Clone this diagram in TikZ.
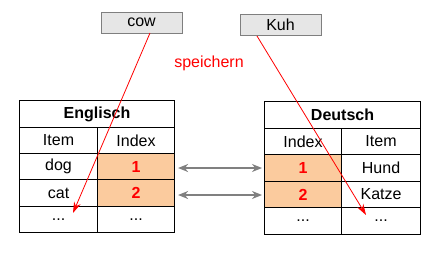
\documentclass[tikz,border=0pt]{standalone}
\usepackage{fontspec}
\setmainfont{Liberation Sans}
\usetikzlibrary{arrows.meta,calc}
\definecolor{cellorange}{HTML}{FBCB9E}
\definecolor{boxgray}{HTML}{E6E6E6}
\definecolor{edgegray}{HTML}{7F7F7F}
\definecolor{arrgray}{HTML}{808080}
\begin{document}
\begin{tikzpicture}[x=1pt,y=-1pt,
  every node/.style={font=\fontsize{16}{19}\selectfont, inner sep=0pt},
  cell/.style={draw=black, line width=1.1pt, minimum width=#1, anchor=north west},
  hl/.style={fill=cellorange},
  num/.style={text=red, font=\fontsize{16}{19}\selectfont\bfseries},
  hdr/.style={font=\fontsize{16}{19}\selectfont\bfseries},
  wordbox/.style={draw=edgegray, fill=boxgray, line width=0.8pt, minimum width=81pt, minimum height=21pt},
  redarrow/.style={draw=red, line width=0.8pt, -{Stealth[length=11pt,width=7pt]}},
  grayarrow/.style={draw=arrgray, line width=1.8pt, {Stealth[length=10pt,width=8pt]}-{Stealth[length=10pt,width=8pt]}, shorten <=3pt, shorten >=2pt}
]
\useasboundingbox (0,0) rectangle (439,252);

% Left table (Englisch)
\node[cell=155pt, minimum height=27pt, hdr] (eH) at (19,100) {Englisch};
\node[cell=78pt, minimum height=26pt] (eC1) at (19,127) {Item};
\node[cell=77pt, minimum height=26pt] (eC2) at (97,127) {Index};
\node[cell=78pt, minimum height=26pt] (eA1) at (19,153) {dog};
\node[cell=77pt, minimum height=26pt, hl, num] (eI1) at (97,153) {1};
\node[cell=78pt, minimum height=27pt] (eA2) at (19,179) {cat};
\node[cell=77pt, minimum height=27pt, hl, num] (eI2) at (97,179) {2};
\node[cell=78pt, minimum height=26pt] (eA3) at (19,206) {...};
\node[cell=77pt, minimum height=26pt] (eI3) at (97,206) {...};

% Right table (Deutsch)
\node[cell=156pt, minimum height=27pt, hdr] (dH) at (264,101) {Deutsch};
\node[cell=77pt, minimum height=26pt] (dC1) at (264,128) {Index};
\node[cell=79pt, minimum height=26pt] (dC2) at (341,128) {Item};
\node[cell=77pt, minimum height=27pt, hl, num] (dI1) at (264,154) {1};
\node[cell=79pt, minimum height=27pt] (dA1) at (341,154) {Hund};
\node[cell=77pt, minimum height=26pt, hl, num] (dI2) at (264,181) {2};
\node[cell=79pt, minimum height=26pt] (dA2) at (341,181) {Katze};
\node[cell=77pt, minimum height=27pt] (dI3) at (264,207) {...};
\node[cell=79pt, minimum height=27pt] (dA3) at (341,207) {...};

% Word boxes
\node[wordbox] (cow) at (141.5,22.5) {cow};
\node[wordbox] (kuh) at (280.5,25) {Kuh};

\node[text=red] (spe) at (209,63) {speichern};

% Red arrows
\coordinate (cowstart) at (150,33);
\coordinate (cowend) at (73,213);
\coordinate (kuhstart) at (257,36);
\coordinate (kuhend) at (366,215);
\draw[redarrow] (cowstart) -- (cowend);
\draw[redarrow] (kuhstart) -- (kuhend);

% Gray arrows
\coordinate (g1) at (0,168);
\coordinate (g2) at (0,195);
\draw[grayarrow] (eI1.east |- g1) -- (dI1.west |- g1);
\draw[grayarrow] (eI2.east |- g2) -- (dI2.west |- g2);
\end{tikzpicture}
\end{document}
